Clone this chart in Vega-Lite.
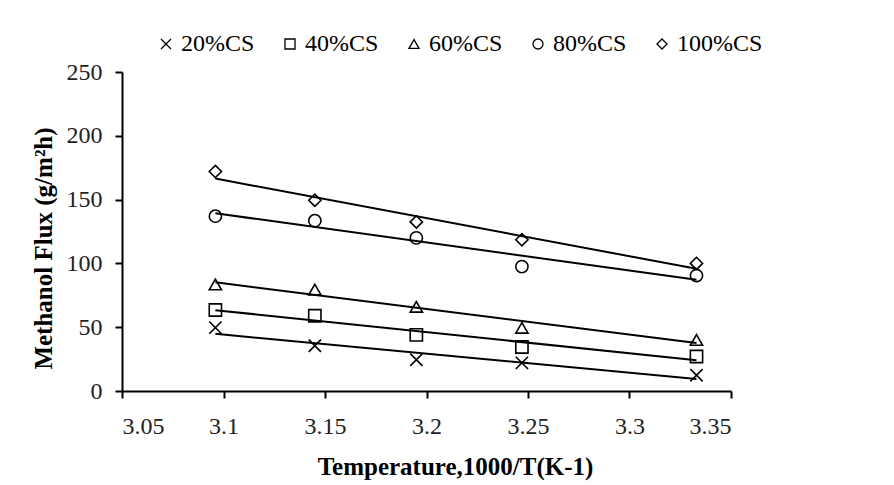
{
  "$schema": "https://vega.github.io/schema/vega-lite/v6.json",
  "width": 609,
  "height": 319,
  "autosize": {"type": "none"},
  "padding": {"top": 72, "left": 122, "right": 163, "bottom": 94},
  "background": "white",
  "config": {
    "view": {"stroke": null},
    "font": "Liberation Serif"
  },
  "data": {
    "values": [
      {"x": 3.096, "flux": 49.7, "series": "20%CS"},
      {"x": 3.145, "flux": 35.5, "series": "20%CS"},
      {"x": 3.195, "flux": 24.5, "series": "20%CS"},
      {"x": 3.247, "flux": 22.0, "series": "20%CS"},
      {"x": 3.333, "flux": 12.3, "series": "20%CS"},
      {"x": 3.096, "flux": 63.5, "series": "40%CS"},
      {"x": 3.145, "flux": 59.0, "series": "40%CS"},
      {"x": 3.195, "flux": 44.0, "series": "40%CS"},
      {"x": 3.247, "flux": 34.5, "series": "40%CS"},
      {"x": 3.333, "flux": 27.0, "series": "40%CS"},
      {"x": 3.096, "flux": 83.5, "series": "60%CS"},
      {"x": 3.145, "flux": 79.5, "series": "60%CS"},
      {"x": 3.195, "flux": 66.0, "series": "60%CS"},
      {"x": 3.247, "flux": 49.5, "series": "60%CS"},
      {"x": 3.333, "flux": 40.0, "series": "60%CS"},
      {"x": 3.096, "flux": 137.0, "series": "80%CS"},
      {"x": 3.145, "flux": 133.5, "series": "80%CS"},
      {"x": 3.195, "flux": 120.0, "series": "80%CS"},
      {"x": 3.247, "flux": 97.5, "series": "80%CS"},
      {"x": 3.333, "flux": 90.5, "series": "80%CS"},
      {"x": 3.096, "flux": 172.0, "series": "100%CS"},
      {"x": 3.145, "flux": 149.5, "series": "100%CS"},
      {"x": 3.195, "flux": 132.5, "series": "100%CS"},
      {"x": 3.247, "flux": 118.5, "series": "100%CS"},
      {"x": 3.333, "flux": 100.0, "series": "100%CS"}
    ]
  },
  "layer": [
    {
      "transform": [
        {"regression": "flux", "on": "x", "groupby": ["series"]}
      ],
      "mark": {"type": "line", "color": "black", "strokeWidth": 2},
      "encoding": {
        "x": {"field": "x", "type": "quantitative"},
        "y": {"field": "flux", "type": "quantitative"},
        "detail": {"field": "series"}
      }
    },
    {
      "mark": {"type": "point", "filled": false, "stroke": "black", "strokeWidth": 1.6, "size": 150, "opacity": 1},
      "encoding": {
        "x": {
          "field": "x",
          "type": "quantitative",
          "scale": {"domain": [3.05, 3.35], "nice": false, "zero": false},
          "axis": {
            "values": [3.05, 3.1, 3.15, 3.2, 3.25, 3.3, 3.35],
            "format": "~g",
            "grid": false,
            "domainColor": "black",
            "domainWidth": 2,
            "tickColor": "black",
            "tickWidth": 2,
            "tickSize": 7,
            "labelFont": "Liberation Serif",
            "labelFontSize": 24,
            "labelColor": "#222",
            "labelPadding": 16,
            "title": "Temperature,1000/T(K-1)",
            "titleFont": "Liberation Serif",
            "titleFontSize": 25,
            "titleFontWeight": "bold",
            "titleColor": "black",
            "titleX": 333,
            "titlePadding": 16
          }
        },
        "y": {
          "field": "flux",
          "type": "quantitative",
          "scale": {"domain": [0, 250], "nice": false},
          "axis": {
            "values": [0, 50, 100, 150, 200, 250],
            "grid": false,
            "domainColor": "black",
            "domainWidth": 2,
            "tickColor": "black",
            "tickWidth": 2,
            "tickSize": 7,
            "labelFont": "Liberation Serif",
            "labelFontSize": 24,
            "labelColor": "#222",
            "labelPadding": 13,
            "title": "Methanol  Flux (g/m²h)",
            "titleFont": "Liberation Serif",
            "titleFontSize": 25,
            "titleFontWeight": "bold",
            "titleColor": "black",
            "titleY": 176,
            "titlePadding": 10
          }
        },
        "shape": {
          "field": "series",
          "type": "nominal",
          "scale": {
            "domain": ["20%CS", "40%CS", "60%CS", "80%CS", "100%CS"],
            "range": ["M-1,-1L1,1M1,-1L-1,1", "square", "triangle-up", "circle", "diamond"]
          },
          "legend": {
            "title": null,
            "orient": "none",
            "direction": "horizontal",
            "legendX": 32,
            "legendY": -40,
            "labelFont": "Liberation Serif",
            "labelFontSize": 24,
            "labelColor": "black",
            "symbolSize": 100,
            "symbolStrokeColor": "black",
            "symbolFillColor": "transparent",
            "symbolStrokeWidth": 1.3,
            "labelOffset": 3,
            "columnPadding": 23
          }
        }
      }
    }
  ]
}
